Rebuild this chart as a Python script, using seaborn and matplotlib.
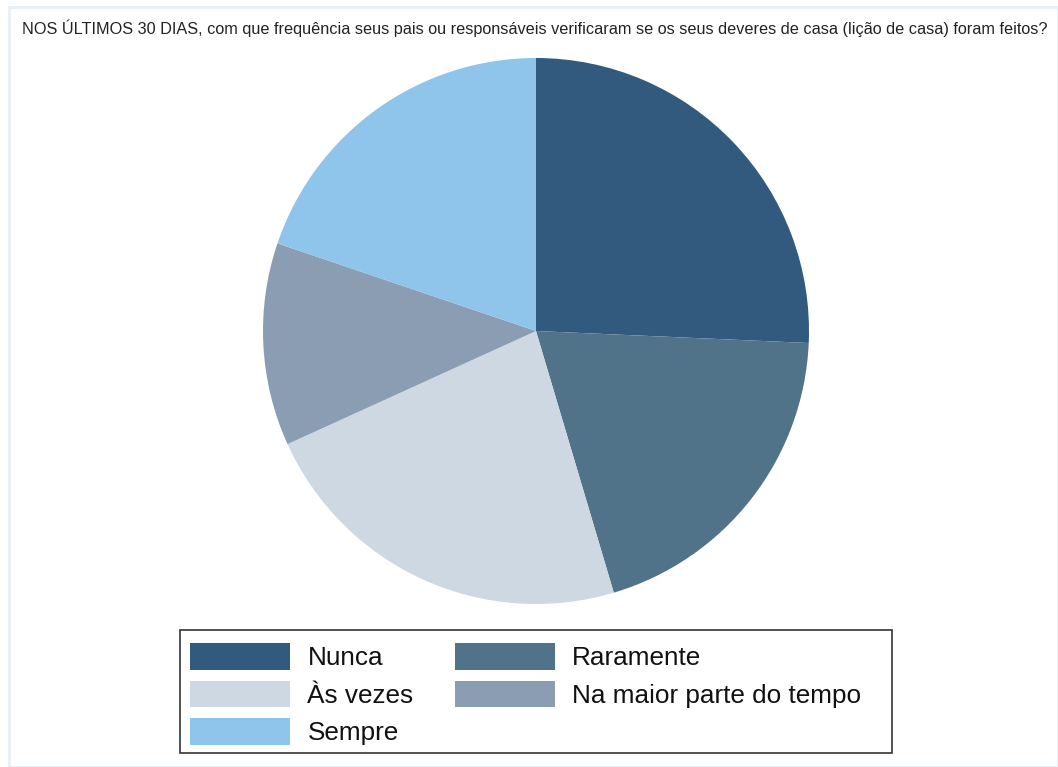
import matplotlib.pyplot as plt
import numpy as np
import pandas as pd
import seaborn as sns
from matplotlib.patches import Patch, Rectangle

sns.set_theme(style="white")
plt.rcParams['font.family'] = ['Liberation Sans', 'DejaVu Sans']

# frequência com que os pais verificaram o dever de casa (%)
categorias = ["Nunca", "Raramente", "Às vezes", "Na maior parte do tempo", "Sempre"]
percentuais = [25.7, 19.7, 22.8, 12.0, 19.8]
cores = ["#325a7e", "#517389", "#cdd8e3", "#8a9db2", "#8fc5eb"]

titulo = ("NOS ÚLTIMOS 30 DIAS, com que frequência seus pais ou responsáveis "
          "verificaram se os seus deveres de casa (lição de casa) foram feitos?")

df = pd.DataFrame({"cat": categorias, "pct": percentuais, "cor": cores})

W, H = 1058, 767
fig = plt.figure(figsize=(W / 100, H / 100), dpi=100)
fig.patch.set_facecolor("white")

# moldura clara ao redor
fig.add_artist(Rectangle((9 / W, 0), 1 - 9 / W, 1 - 7 / H,
                         transform=fig.transFigure, fill=False,
                         edgecolor="#e8f0f5", linewidth=2))

fig.text(22 / W, 1 - 28 / H, titulo, fontsize=11.7, color="#222222",
         ha="left", va="center")

ax = fig.add_axes([263 / W, 1 - 604 / H, 546 / W, 546 / H])
ax.pie(df["pct"], colors=df["cor"], startangle=90, counterclock=False,
       radius=1, wedgeprops=dict(linewidth=0))
ax.set_xlim(-1, 1)
ax.set_ylim(-1, 1)
ax.set_aspect("equal")
ax.axis("off")

# caixa da legenda
fig.add_artist(Rectangle((180 / W, 1 - 753 / H), 712 / W, 123 / H,
                         transform=fig.transFigure, fill=False,
                         edgecolor="#333333", linewidth=1.2, zorder=5))

# legenda preenchida por linhas (Nunca, Raramente / Às vezes, ...)
handles = [Patch(facecolor=c, edgecolor="none", label=l)
           for l, c in zip(df["cat"], df["cor"])]
ordem = [0, 2, 4, 1, 3]
leg = fig.legend([handles[i] for i in ordem], [categorias[i] for i in ordem],
                 ncol=2, loc="upper left", bbox_to_anchor=(180 / W, 1 - 632.5 / H),
                 fontsize=18.8, handlelength=3.83, handleheight=1.2,
                 labelspacing=0.4, columnspacing=1.6, handletextpad=0.65,
                 frameon=False, borderpad=0.4, borderaxespad=0)
for t in leg.get_texts():
    t.set_color("#111111")

fig.savefig("out.png", dpi=100)
